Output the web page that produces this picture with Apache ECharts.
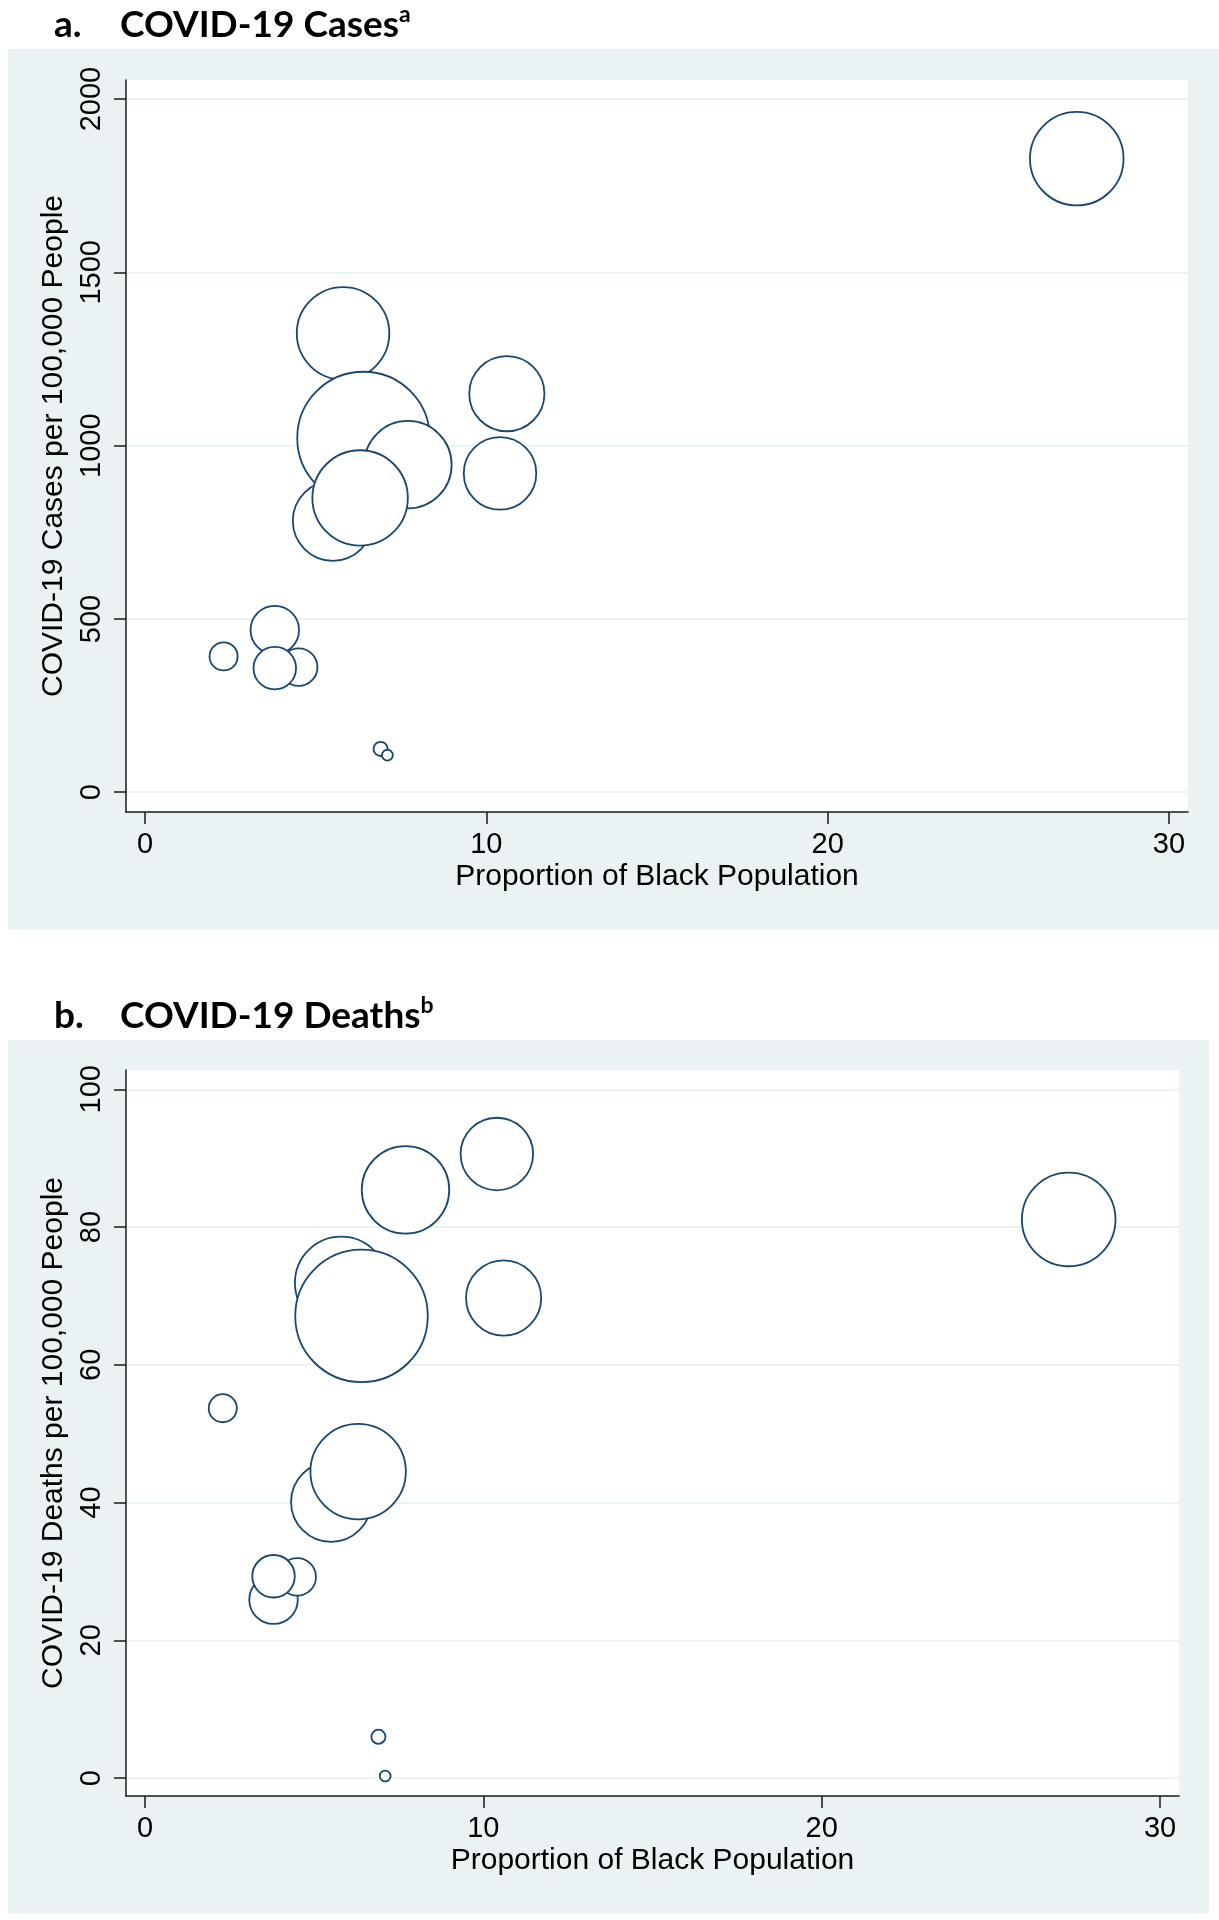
<!DOCTYPE html>
<html><head><meta charset="utf-8">
<script src="https://cdn.jsdelivr.net/npm/echarts@6/dist/echarts.min.js"></script>
<style>html,body{margin:0;padding:0;background:#fff}#c{width:1219px;height:1920px}</style>
</head><body><div id="c"></div>
<script>
// ---- data ----
const blackPct      = [5.8, 6.4, 7.7, 5.5, 6.3, 10.6, 10.4, 27.3, 3.8, 4.5, 2.3, 3.8, 6.9, 7.1];
const casesPer100k  = [1324, 1022, 945, 783, 849, 1150, 920, 1828, 468, 361, 392, 358, 125, 107];
const deathsPer100k = [71.9, 67.1, 85.4, 40.1, 44.5, 69.7, 90.6, 81.1, 25.9, 29.2, 53.7, 29.3, 6.0, 0.3];
const bubbleWeight  = [22.1, 44.9, 19.8, 16.6, 23.5, 14.7, 13.7, 22.6, 6.25, 3.8, 2.19, 4.84, 0.61, 0.38];
const xTicks      = [0, 10, 20, 30];
const casesTicks  = [0, 500, 1000, 1500, 2000];
const deathsTicks = [0, 20, 40, 60, 80, 100];

const NAVY = '#1A476F', BG = '#EAF2F3', AX = '#1a1a1a';
const FONT = '"Liberation Sans", Arial, sans-serif';
const TFONT = 'Lato, "Open Sans", sans-serif';

function xAxisCfg(gi) {
  return {
    type: 'value', gridIndex: gi, min: -0.56, max: 30.56,
    name: 'Proportion of Black Population', nameLocation: 'middle', nameGap: 50,
    nameTextStyle: { fontFamily: FONT, fontSize: 30, color: '#000' },
    axisLine: { show: true, onZero: false, lineStyle: { color: AX, width: 1.5 } },
    axisTick: { show: true, length: 12, customValues: xTicks, lineStyle: { color: AX, width: 1.5 } },
    axisLabel: { show: true, customValues: xTicks, margin: 18, fontFamily: FONT, fontSize: 29, color: '#000',
                 formatter: v => String(v) },
    splitLine: { show: false }
  };
}
function yAxisCfg(gi, name, min, max, ticks) {
  return {
    type: 'value', gridIndex: gi, min: min, max: max,
    name: name, nameLocation: 'middle', nameGap: 53,
    nameTextStyle: { fontFamily: FONT, fontSize: 30, color: '#000' },
    axisLine: { show: true, onZero: false, lineStyle: { color: AX, width: 1.5 } },
    axisTick: { show: true, length: 12, customValues: ticks, lineStyle: { color: AX, width: 1.5 } },
    axisLabel: { show: true, customValues: ticks, rotate: 90, margin: 20, fontFamily: FONT, fontSize: 29, color: '#000',
                 formatter: v => String(v) },
    splitLine: { show: true, lineStyle: { color: BG, width: 2 } }
  };
}
function seriesCfg(gi, yVals) {
  return {
    type: 'scatter', xAxisIndex: gi, yAxisIndex: gi,
    data: blackPct.map((x, i) => [x, yVals[i], bubbleWeight[i]]),
    symbol: 'circle',
    symbolSize: v => 20 * Math.sqrt(v[2]) - 1.5,
    itemStyle: { color: '#fff', borderColor: NAVY, borderWidth: 1.8, opacity: 1 },
    emphasis: { disabled: true }, silent: true, clip: false
  };
}
function titles(letter, text, sup, top) {
  const base = { fontFamily: TFONT, fontWeight: 'bold', fontSize: 37, color: '#000', lineHeight: 44 };
  return [
    { text: letter, left: 54, top: top, padding: 0, textStyle: base },
    { text: '{m|' + text + '}{s|' + sup + '}', left: 120, top: top, padding: 0,
      textStyle: { rich: { m: base, s: { fontFamily: TFONT, fontWeight: 'bold', fontSize: 23, color: '#000', verticalAlign: 'top', lineHeight: 30 } } } }
  ];
}

const chart = echarts.init(document.getElementById('c'), null, { renderer: 'canvas' });
chart.setOption({
  animation: false,
  backgroundColor: '#fff',
  title: [].concat(titles('a.', 'COVID-19 Cases', 'a', 3), titles('b.', 'COVID-19 Deaths', 'b', 994)),
  graphic: [
    { type: 'rect', z: -10, shape: { x: 8, y: 49, width: 1211, height: 881 }, style: { fill: BG } },
    { type: 'rect', z: -10, shape: { x: 8, y: 1040, width: 1201, height: 874 }, style: { fill: BG } }
  ],
  grid: [
    { left: 126, top: 80, width: 1062, height: 732, show: true, backgroundColor: '#fff', borderWidth: 0, outerBoundsMode: 'none' },
    { left: 126, top: 1070, width: 1053, height: 726, show: true, backgroundColor: '#fff', borderWidth: 0, outerBoundsMode: 'none' }
  ],
  xAxis: [xAxisCfg(0), xAxisCfg(1)],
  yAxis: [
    yAxisCfg(0, 'COVID-19 Cases per 100,000 People', -57, 2055, casesTicks),
    yAxisCfg(1, 'COVID-19 Deaths per 100,000 People', -2.6, 102.8, deathsTicks)
  ],
  series: [seriesCfg(0, casesPer100k), seriesCfg(1, deathsPer100k)]
});
</script></body></html>
